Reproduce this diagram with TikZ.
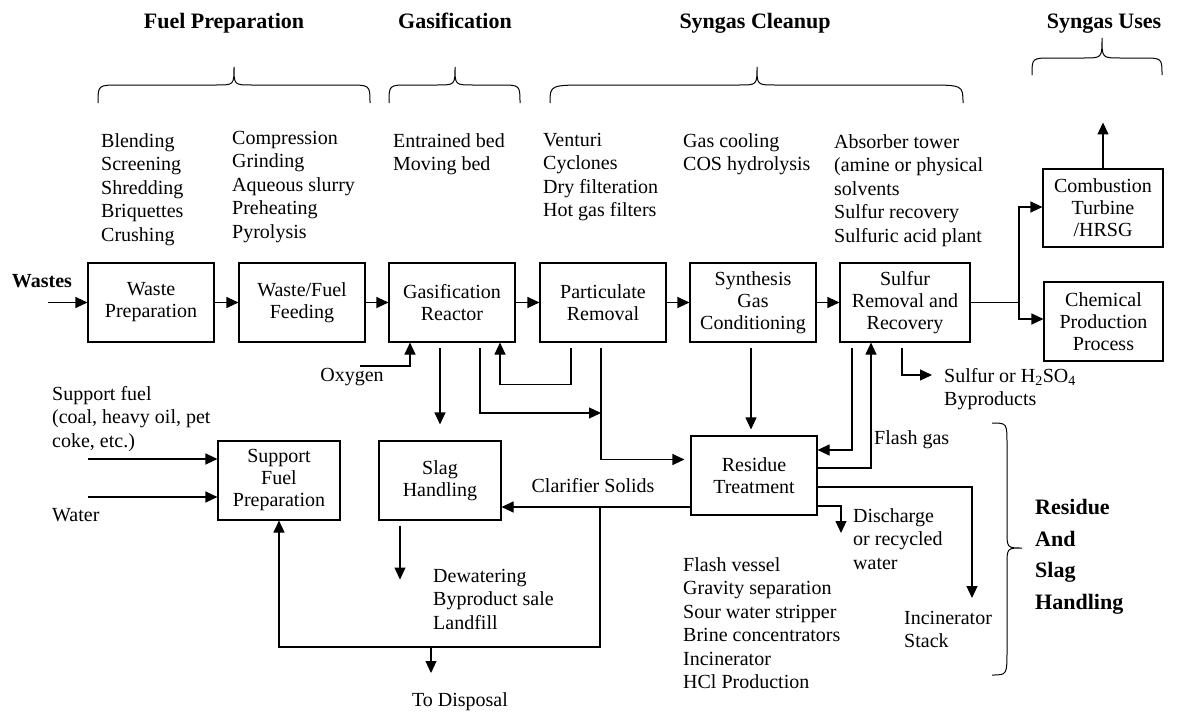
\documentclass[tikz,border=0pt]{standalone}
\usepackage{fontspec}
\setmainfont{Liberation Serif}
\usetikzlibrary{arrows.meta,calc}
\begin{document}
\begin{tikzpicture}[x=1pt,y=-1pt,
 box/.style={draw, line width=1.1pt, minimum width=126pt, minimum height=79pt, inner sep=0pt, align=center, font=\fontsize{20}{22}\selectfont},
 arr/.style={line width=1.1pt, -{Triangle[length=12pt,width=11pt]}},
 ln/.style={line width=1.1pt},
 lst/.style={anchor=north west, inner sep=0pt, align=left, font=\fontsize{20}{23.5}\selectfont},
 txt/.style={inner sep=0pt, font=\fontsize{20}{23.5}\selectfont},
 hdr/.style={inner sep=0pt, anchor=base, font=\fontsize{22}{26}\selectfont\bfseries},
 brc/.style={line width=1pt}]
\useasboundingbox (0,0) rectangle (1179,712);

% headers
\node[hdr] (hfuel) at (224,28) {Fuel Preparation};
\node[hdr] (hgas) at (455,28) {Gasification};
\node[hdr] (hclean) at (755,28) {Syngas Cleanup};
\node[hdr] (huses) at (1104,28) {Syngas Uses};

% braces
\draw[brc] (98,103) .. controls (98,85) .. (120,85) -- (216,85) .. controls (234,85) .. (234,67) .. controls (234,85) .. (252,85) -- (348,85) .. controls (370,85) .. (370,103);
\draw[brc] (389,103) .. controls (389,85) .. (409,85) -- (437,85) .. controls (455,85) .. (455,67) .. controls (455,85) .. (473,85) -- (500,85) .. controls (520,85) .. (520,103);
\draw[brc] (550,103) .. controls (550,85) .. (590,85) -- (739,85) .. controls (757,85) .. (757,67) .. controls (757,85) .. (775,85) -- (925,85) .. controls (963,85) .. (963,103);
\draw[brc] (1032,75) .. controls (1032,58) .. (1052,58) -- (1084,58) .. controls (1102,58) .. (1102,38) .. controls (1102,58) .. (1120,58) -- (1142,58) .. controls (1162,58) .. (1162,75);
\draw[brc] (992,423) .. controls (1007,423) .. (1007,445) -- (1007,530) .. controls (1007,548) .. (1022,548) .. controls (1007,548) .. (1007,566) -- (1007,650) .. controls (1007,675) .. (992,675);

% lists
\node[lst] (l1) at (101,133) {Blending\\Screening\\Shredding\\Briquettes\\Crushing};
\node[lst] (l2) at (232,131) {Compression\\Grinding\\Aqueous slurry\\Preheating\\Pyrolysis};
\node[lst] (l3) at (393,133) {Entrained bed\\Moving bed};
\node[lst] (l4) at (543,133) {Venturi\\Cyclones\\Dry filteration\\Hot gas filters};
\node[lst] (l5) at (683,133) {Gas cooling\\COS hydrolysis};
\node[lst] (l6) at (834,134) {Absorber tower\\(amine or physical\\solvents\\Sulfur recovery\\Sulfuric acid plant};

% main boxes
\node[box] (WP) at (151,302.5) {Waste\\Preparation};
\node[box] (WF) at (302,302.5) {Waste/Fuel\\Feeding};
\node[box] (GR) at (452,302.5) {Gasification\\Reactor};
\node[box] (PR) at (603,302.5) {Particulate\\Removal};
\node[box] (SGC) at (753,302.5) {Synthesis\\Gas\\Conditioning};
\node[box, minimum width=130pt] (SR) at (905,302.5) {Sulfur\\Removal and\\Recovery};
\node[box, minimum width=120pt, minimum height=78pt] (CT) at (1103,208) {Combustion\\Turbine\\/HRSG};
\node[box, minimum width=119pt] (CPP) at (1103.5,321.5) {Chemical\\Production\\Process};
\node[box, minimum width=122pt] (SFP) at (279,480.5) {Support\\Fuel\\Preparation};
\node[box, minimum width=122pt] (SH) at (440,480.5) {Slag\\Handling};
\node[box] (RT) at (754,475.5) {Residue\\Treatment};

% labels
\node[inner sep=0pt, font=\fontsize{20}{23}\selectfont\bfseries] (wastes) at (42,281) {Wastes};
\node[txt] (oxy) at (352,377) {Oxygen};
\node[lst] (supp) at (52,386) {Support fuel\\(coal, heavy oil, pet\\coke, etc.)};
\node[txt, anchor=west] (water) at (52,515) {Water};
\node[txt] (clar) at (593,486) {Clarifier Solids};
\node[txt, anchor=west] (flash) at (874,440) {Flash gas};
\node[lst] (byp) at (944,368) {Sulfur or H\textsubscript{2}SO\textsubscript{4}\\Byproducts};
\node[lst] (disc) at (853,508) {Discharge\\or recycled\\water};
\node[lst] (inc) at (904,611) {Incinerator\\Stack};
\node[lst] (dew) at (433,569) {Dewatering\\Byproduct sale\\Landfill};
\node[lst] (rlist) at (683,557) {Flash vessel\\Gravity separation\\Sour water stripper\\Brine concentrators\\Incinerator\\HCl Production};
\node[txt] (disp) at (460,702) {To Disposal};
\node[anchor=north west, inner sep=0pt, align=left, font=\fontsize{22}{31.7}\selectfont\bfseries] (rsh) at (1035,499) {Residue\\And\\Slag\\Handling};

% coordinates
\coordinate (win) at (48,302.5);
\coordinate (oxin) at (360,366);
\coordinate (j1) at (601,413);
\coordinate (j2) at (600,507);
\coordinate (j3) at (600,647);
\coordinate (dspj) at (431,647);
\coordinate (bypin) at (932,375);
\coordinate (incin) at (972,598);
\coordinate (discin) at (841,533);
\coordinate (j4) at (1019,302.5);
\coordinate (sf1) at (88,459);
\coordinate (sf2) at (88,497);

% main line
\draw[arr] (win) -- (WP.west);
\draw[arr] (WP.east) -- (WF.west);
\draw[arr] (WF.east) -- (GR.west);
\draw[arr] (GR.east) -- (PR.west);
\draw[arr] (PR.east) -- (SGC.west);
\draw[arr] (SGC.east) -- (SR.west);
\draw[ln] (SR.east) -- (j4);
\draw[arr] (j4) |- ($(CT.west)+(0,-1)$);
\draw[arr] (j4) |- ($(CPP.west)+(0,-2.5)$);
\draw[arr] (CT.north) -- ++(0,-46);

% oxygen
\draw[arr] (oxin) -| ($(GR.south)+(-42,0)$);
% gasifier to slag
\draw[arr] ($(GR.south)+(-12,5)$) -- ($(SH.north)+(0,-16)$);
% gasifier to residue line
\draw[arr] ($(GR.south)+(28,5)$) |- (j1);
% particulate recycle
\draw[arr] ($(PR.south)+(-32,5)$) -- ++(0,37) -| ($(GR.south)+(48,0)$);
% particulate to residue
\draw[arr] ($(PR.south)+(-2,5)$) |- ($(RT.west)+(-6,-16)$);
% syngas cond to residue
\draw[arr] ($(SGC.south)+(-2,5)$) -- ($(RT.north)+(-3,-6)$);
% sulfur removal to residue
\draw[arr] ($(SR.south)+(-53,5)$) |- ($(RT.east)+(0,-25.5)$);
% flash gas
\draw[arr] ($(RT.east)+(0,-7.5)$) -| ($(SR.south)+(-34,0)$);
% byproducts
\draw[arr] ($(SR.south)+(-3,5)$) |- (bypin);
% incinerator
\draw[arr] ($(RT.east)+(0,11.5)$) -| (incin);
% discharge
\draw[arr] ($(RT.east)+(0,30.5)$) -| (discin);
% clarifier
\draw[arr] ($(RT.west)+(0,31.5)$) -- ($(SH.east)+(0,26.5)$);
\draw[arr] (j2) -- (j3) -| (SFP.south);
\draw[arr] (dspj) -- ++(0,26);
% slag down
\draw[arr] ($(SH.south)+(-40,5)$) -- ++(0,54);
% support fuel inputs
\draw[arr] (sf1) -- ($(SFP.west)+(0,-21.5)$);
\draw[arr] (sf2) -- ($(SFP.west)+(0,16.5)$);
\end{tikzpicture}
\end{document}
